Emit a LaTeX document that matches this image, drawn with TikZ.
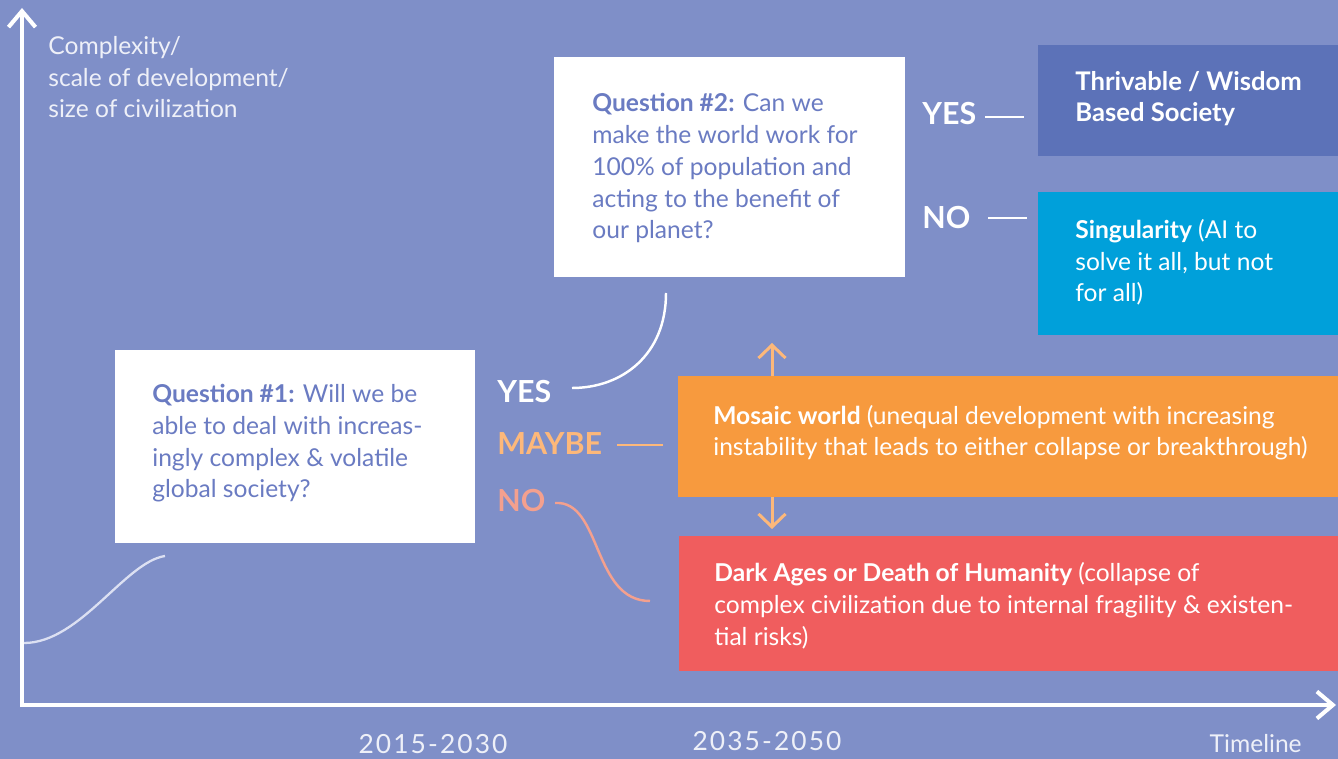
\documentclass[tikz,border=0pt]{standalone}
\usepackage{fontspec}
\setmainfont{Lato}
\newfontfamily\datefont[LetterSpace=8]{Lato}
\usetikzlibrary{arrows.meta}
\definecolor{bg}{HTML}{7F8FC8}
\definecolor{qtext}{HTML}{6A7BC2}
\definecolor{thriv}{HTML}{5C72B8}
\definecolor{sing}{HTML}{00A0DA}
\definecolor{mosaic}{HTML}{F79A3E}
\definecolor{darkred}{HTML}{F05D5E}
\definecolor{lorange}{HTML}{FDB87A}
\definecolor{salmon}{HTML}{F4A08E}
\definecolor{curvecol}{HTML}{DCE0F2}
\definecolor{labelcol}{HTML}{EEF0F8}
\tikzset{
  box/.style={anchor=north west, inner sep=0pt, outer sep=0pt},
  body/.style={anchor=base west, inner sep=0pt, align=left, font=\fontsize{14}{18.2}\selectfont},
  answer/.style={anchor=base west, inner sep=0pt, font=\fontsize{17.3}{19}\selectfont\bfseries},
  axis/.style={white, line width=2.3pt, -{Straight Barb[length=0.32cm, width=0.54cm, line width=2.3pt]}},
  branch/.style={line width=1.4pt},
  updown/.style={lorange, line width=1.7pt, -{Straight Barb[length=0.26cm, width=0.54cm, line width=1.7pt]}},
  datelabel/.style={anchor=base, inner sep=0pt, text=labelcol, font=\fontsize{15}{17}\selectfont\datefont},
}
\begin{document}
\begin{tikzpicture}[x=0.02cm, y=-0.02cm]
\fill[bg] (0,0) rectangle (1338,759);
\useasboundingbox (0,0) rectangle (1338,759);

% axes
\coordinate (origin) at (22,705);
\coordinate (ytop) at (22,8);
\coordinate (xend) at (1336,705);
\draw[axis] (22,707) -- (ytop);
\draw[axis] (20,705) -- (xend);

% multi-line nodes are anchored at the baseline of their last line
\node[body, text=labelcol] (ylabel) at (48,118) {Complexity/\\scale of development/\\size of civilization};

% growth curve
\coordinate (g0) at (24,643);
\coordinate (g1) at (165,556);
\draw[curvecol, line width=1.3pt] (g0) .. controls (80,643) and (125,562) .. (g1);

% Question 1
\node[box, fill=white, minimum width={360*0.02cm}, minimum height={193*0.02cm}] (q1) at (115,350) {};
\node[body, text=qtext] (q1text) at (152,498) {\textbf{Question \#1:} Will we be\\able to deal with increas-\\ingly complex \& volatile\\global society?};

% Question 2
\node[box, fill=white, minimum width={351*0.02cm}, minimum height={220*0.02cm}] (q2) at (554,57) {};
\node[body, text=qtext] (q2text) at (592,239) {\textbf{Question \#2:} Can we\\make the world work for\\100\% of population and\\acting to the benefit of\\our planet?};

% Answers to question 1
\node[answer, text=white] (yes1) at (497,403) {YES};
\node[answer, text=lorange] (maybe1) at (497,455) {MAYBE};
\node[answer, text=salmon] (no1) at (497,512) {NO};

\coordinate (q2out) at (666,293);
\coordinate (yesin) at (572,388);
\draw[white, branch] (q2out) .. controls (666,355) and (622,388) .. (yesin);

\coordinate (maybeA) at (617,445);
\coordinate (maybeB) at (663,445);
\draw[lorange, branch] (maybeA) -- (maybeB);

\coordinate (noA) at (555,503);
\coordinate (noB) at (650,601);
\draw[salmon, branch] (noA) .. controls (602,500) and (592,601) .. (noB);

% Outcome boxes
\node[box, fill=mosaic, minimum width={660*0.02cm}, minimum height={121*0.02cm}] (mosaicbox) at (678,376) {};
\node[body, text=white] (mosaictext) at (713,456) {\textbf{Mosaic world} (unequal development with increasing\\instability that leads to either collapse or breakthrough)};

\node[box, fill=darkred, minimum width={659*0.02cm}, minimum height={135*0.02cm}] (darkbox) at (679,536) {};
\node[body, text=white] (darktext) at (714,645) {\textbf{Dark Ages or Death of Humanity} (collapse of\\complex civilization due to internal fragility \& existen-\\tial risks)};

\coordinate (upA) at (772,376);
\coordinate (upB) at (772,343);
\coordinate (dnA) at (772,497);
\coordinate (dnB) at (772,529);
\draw[updown] (upA) -- (upB);
\draw[updown] (dnA) -- (dnB);

% Answers to question 2
\node[answer, text=white] (yes2) at (922,125) {YES};
\node[answer, text=white] (no2) at (922,229) {NO};
\coordinate (yes2A) at (985,117);
\coordinate (yes2B) at (1024,117);
\coordinate (no2A) at (988,218);
\coordinate (no2B) at (1027,218);
\draw[white, branch] (yes2A) -- (yes2B);
\draw[white, branch] (no2A) -- (no2B);

\node[box, fill=thriv, minimum width={300*0.02cm}, minimum height={111*0.02cm}] (thrivbox) at (1038,45) {};
\node[body, text=white, font=\fontsize{14.6}{18}\selectfont\bfseries] (thrivtext) at (1075,122) {Thrivable / Wisdom\\Based Society};

\node[box, fill=sing, minimum width={300*0.02cm}, minimum height={143*0.02cm}] (singbox) at (1038,192) {};
\node[body, text=white] (singtext) at (1075,302) {\textbf{Singularity} (AI to\\solve it all, but not\\for all)};

% timeline labels
\node[datelabel] (d1) at (433,753) {2015-2030};
\node[datelabel] (d2) at (767,750) {2035-2050};
\node[datelabel, anchor=base east, font=\fontsize{14}{16}\selectfont] (tl) at (1302,752) {Timeline};
\end{tikzpicture}
\end{document}
